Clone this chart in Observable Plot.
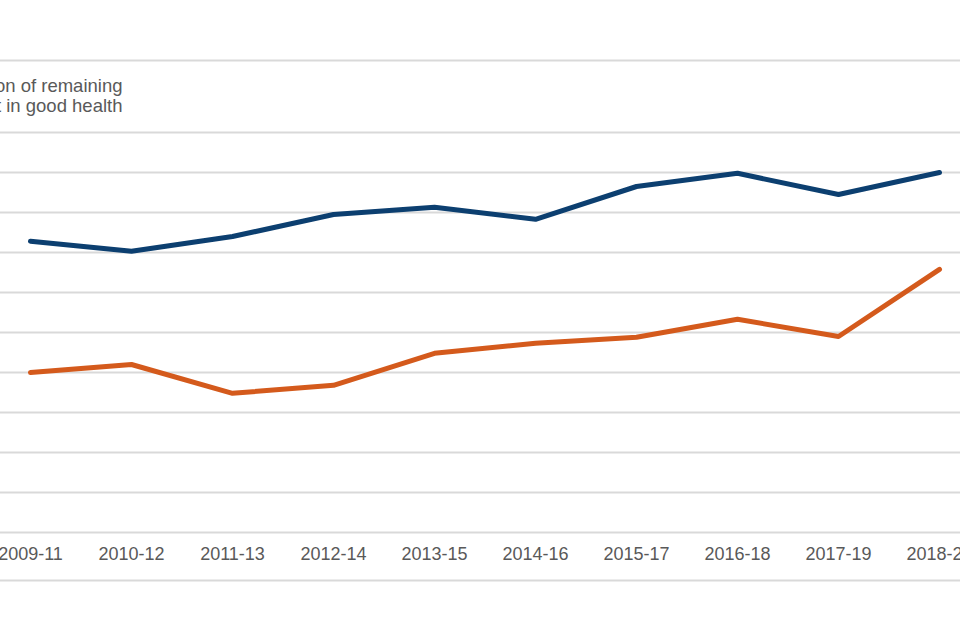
<!DOCTYPE html>
<html>
<head>
<meta charset="utf-8">
<script src="https://cdn.jsdelivr.net/npm/d3@7"></script>
<script src="https://cdn.jsdelivr.net/npm/@observablehq/plot@0.6"></script>
<style>
  html, body { margin: 0; padding: 0; background: #fff; overflow: hidden; }
  #chart svg { display: block; }
</style>
</head>
<body>
<div id="chart"></div>
<script>
// Periods (x categories)
const periods = ["2009-11", "2010-12", "2011-13", "2012-14", "2013-15", "2014-16", "2015-17", "2016-18", "2017-19", "2018-20"];
// Series values (proportion of remaining life spent in good health, %)
const blueValues   = [77.28, 77.03, 77.40, 77.95, 78.13, 77.83, 78.65, 78.98, 78.45, 79.00];
const orangeValues = [74.00, 74.20, 73.48, 73.68, 74.48, 74.73, 74.88, 75.33, 74.90, 76.58];
// Gridline values
const yTicks = [70, 71, 72, 73, 74, 75, 76, 77, 78, 79, 80];
// Legend text (partly cropped at the left edge in the reference)
const legendLines = ["Proportion of remaining", "life spent in good health"];

const rows = [
  ...periods.map((p, i) => ({period: p, value: blueValues[i], series: "Series 1"})),
  ...periods.map((p, i) => ({period: p, value: orangeValues[i], series: "Series 2"}))
];

const chart = Plot.plot({
  width: 960,
  height: 640,
  marginTop: 60,
  marginBottom: 60,
  marginLeft: 0,
  marginRight: 0,
  style: {fontFamily: "'Liberation Sans', Arial, sans-serif", background: "#fff"},
  x: {type: "point", domain: periods, range: [26, 942], padding: 0, axis: null},
  y: {domain: [70, 80], range: [532, 132], axis: null},
  color: {domain: ["Series 1", "Series 2"], range: ["#0c3f70", "#d45a1c"]},
  marks: [
    Plot.frame({anchor: "top", stroke: "#d9d9d9", strokeWidth: 2}),
    Plot.frame({anchor: "bottom", stroke: "#d9d9d9", strokeWidth: 2}),
    Plot.gridY(yTicks, {stroke: "#d9d9d9", strokeOpacity: 1, strokeWidth: 2}),
    Plot.line(rows, {x: "period", y: "value", z: "series", stroke: "series", strokeWidth: 5, strokeLinecap: "round", strokeLinejoin: "round"}),
    Plot.text(periods, {x: d => d, frameAnchor: "bottom", dy: -21, fontSize: 18, fill: "#595959"}),
    Plot.text([legendLines.join("\n")], {frameAnchor: "top-left", textAnchor: "end", lineAnchor: "top", dx: 122, dy: 17, fontSize: 18.5, lineHeight: 1.1, fill: "#595959"})
  ]
});
document.getElementById("chart").append(chart);
</script>
</body>
</html>
